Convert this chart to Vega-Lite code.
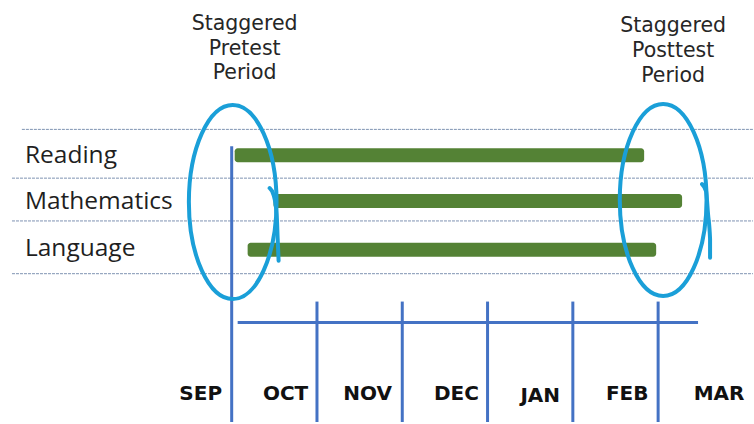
{
  "$schema": "https://vega.github.io/schema/vega-lite/v6.json",
  "width": 754,
  "height": 424,
  "autosize": {"type": "fit", "contains": "padding"},
  "padding": 0,
  "background": "white",
  "config": {"view": {"stroke": null}},
  "encoding": {
    "x": {"field": "x", "type": "quantitative", "scale": {"domain": [-2.7166, 6.1124], "nice": false, "zero": false}, "axis": null},
    "y": {"field": "y", "type": "quantitative", "scale": {"domain": [0, 424], "reverse": true, "nice": false, "zero": false}, "axis": null}
  },
  "layer": [
    {
      "data": {"values": [
        {"x": -2.46, "x2": 6.112, "y": 130},
        {"x": -2.576, "x2": 6.112, "y": 179},
        {"x": -2.576, "x2": 6.112, "y": 222},
        {"x": -2.576, "x2": 6.112, "y": 275}
      ]},
      "mark": {"type": "rule", "color": "#7f93b2", "strokeWidth": 1, "strokeDash": [3, 1]},
      "encoding": {"x2": {"field": "x2"}}
    },
    {
      "data": {"values": [
        {"subject": "Reading", "x": 0.035, "x2": 4.836, "y": 149, "y2": 163},
        {"subject": "Mathematics", "x": 0.49, "x2": 5.281, "y": 195, "y2": 209},
        {"subject": "Language", "x": 0.187, "x2": 4.977, "y": 244, "y2": 258}
      ]},
      "mark": {"type": "bar", "color": "#548235", "cornerRadius": 3},
      "encoding": {"x2": {"field": "x2"}, "y2": {"field": "y2"}}
    },
    {
      "data": {"values": [
        {"month": "SEP", "x": 0, "x2": 0, "y": 147, "y2": 424},
        {"month": "OCT", "x": 1, "x2": 1, "y": 303, "y2": 424},
        {"month": "NOV", "x": 2, "x2": 2, "y": 303, "y2": 424},
        {"month": "DEC", "x": 3, "x2": 3, "y": 303, "y2": 424},
        {"month": "JAN", "x": 4, "x2": 4, "y": 303, "y2": 424},
        {"month": "FEB", "x": 5, "x2": 5, "y": 303, "y2": 424},
        {"month": "axis", "x": 0.07, "x2": 5.468, "y": 324, "y2": 324}
      ]},
      "mark": {"type": "rule", "color": "#4472c4", "strokeWidth": 3},
      "encoding": {"x2": {"field": "x2"}, "y2": {"field": "y2"}}
    },
    {
      "data": {"values": [
        {"period": "pretest", "x": 0.012, "y": 203, "size": 37636},
        {"period": "posttest", "x": 5.059, "y": 201, "size": 36864}
      ]},
      "mark": {"type": "point", "filled": false, "opacity": 1, "stroke": "#1a9fd8", "strokeWidth": 4,
        "shape": "M0,-1C0.2458,-1 0.452,-0.5523 0.452,0C0.452,0.5523 0.2458,1 0,1C-0.2458,1 -0.452,0.5523 -0.452,0C-0.452,-0.5523 -0.2458,-1 0,-1Z"},
      "encoding": {"size": {"field": "size", "type": "quantitative", "scale": null, "legend": null}}
    },
    {
      "data": {"values": [
        {"hook": "pre", "k": 1, "x": 0.445, "y": 189},
        {"hook": "pre", "k": 2, "x": 0.492, "y": 196},
        {"hook": "pre", "k": 3, "x": 0.527, "y": 215},
        {"hook": "pre", "k": 4, "x": 0.539, "y": 240},
        {"hook": "pre", "k": 5, "x": 0.55, "y": 262},
        {"hook": "post", "k": 1, "x": 5.515, "y": 185},
        {"hook": "post", "k": 2, "x": 5.562, "y": 192},
        {"hook": "post", "k": 3, "x": 5.585, "y": 215},
        {"hook": "post", "k": 4, "x": 5.609, "y": 240},
        {"hook": "post", "k": 5, "x": 5.609, "y": 259}
      ]},
      "mark": {"type": "line", "color": "#1a9fd8", "strokeWidth": 4, "interpolate": "monotone", "strokeCap": "round"},
      "encoding": {"detail": {"field": "hook"}, "order": {"field": "k", "type": "quantitative"}}
    },
    {
      "data": {"values": [
        {"label": "Reading", "x": -2.424, "y": 164},
        {"label": "Mathematics", "x": -2.424, "y": 210},
        {"label": "Language", "x": -2.424, "y": 257}
      ]},
      "mark": {"type": "text", "font": "Open Sans", "fontSize": 24.5, "color": "#1f1f1f", "align": "left", "baseline": "alphabetic"},
      "encoding": {"text": {"field": "label"}}
    },
    {
      "data": {"values": [
        {"label": "SEP", "x": -0.363, "y": 402},
        {"label": "OCT", "x": 0.632, "y": 402},
        {"label": "NOV", "x": 1.593, "y": 402},
        {"label": "DEC", "x": 2.635, "y": 402},
        {"label": "JAN", "x": 3.618, "y": 404},
        {"label": "FEB", "x": 4.637, "y": 402},
        {"label": "MAR", "x": 5.714, "y": 402}
      ]},
      "mark": {"type": "text", "font": "DejaVu Sans", "fontWeight": "bold", "fontSize": 20, "color": "#111111", "align": "center", "baseline": "alphabetic"},
      "encoding": {"text": {"field": "label"}}
    },
    {
      "data": {"values": [
        {"label": "Staggered", "x": 0.152, "y": 30},
        {"label": "Pretest", "x": 0.152, "y": 55},
        {"label": "Period", "x": 0.152, "y": 79},
        {"label": "Staggered", "x": 5.176, "y": 32},
        {"label": "Posttest", "x": 5.176, "y": 57},
        {"label": "Period", "x": 5.176, "y": 82}
      ]},
      "mark": {"type": "text", "font": "DejaVu Sans", "fontSize": 20.5, "color": "#262626", "align": "center", "baseline": "alphabetic"},
      "encoding": {"text": {"field": "label"}}
    }
  ]
}
